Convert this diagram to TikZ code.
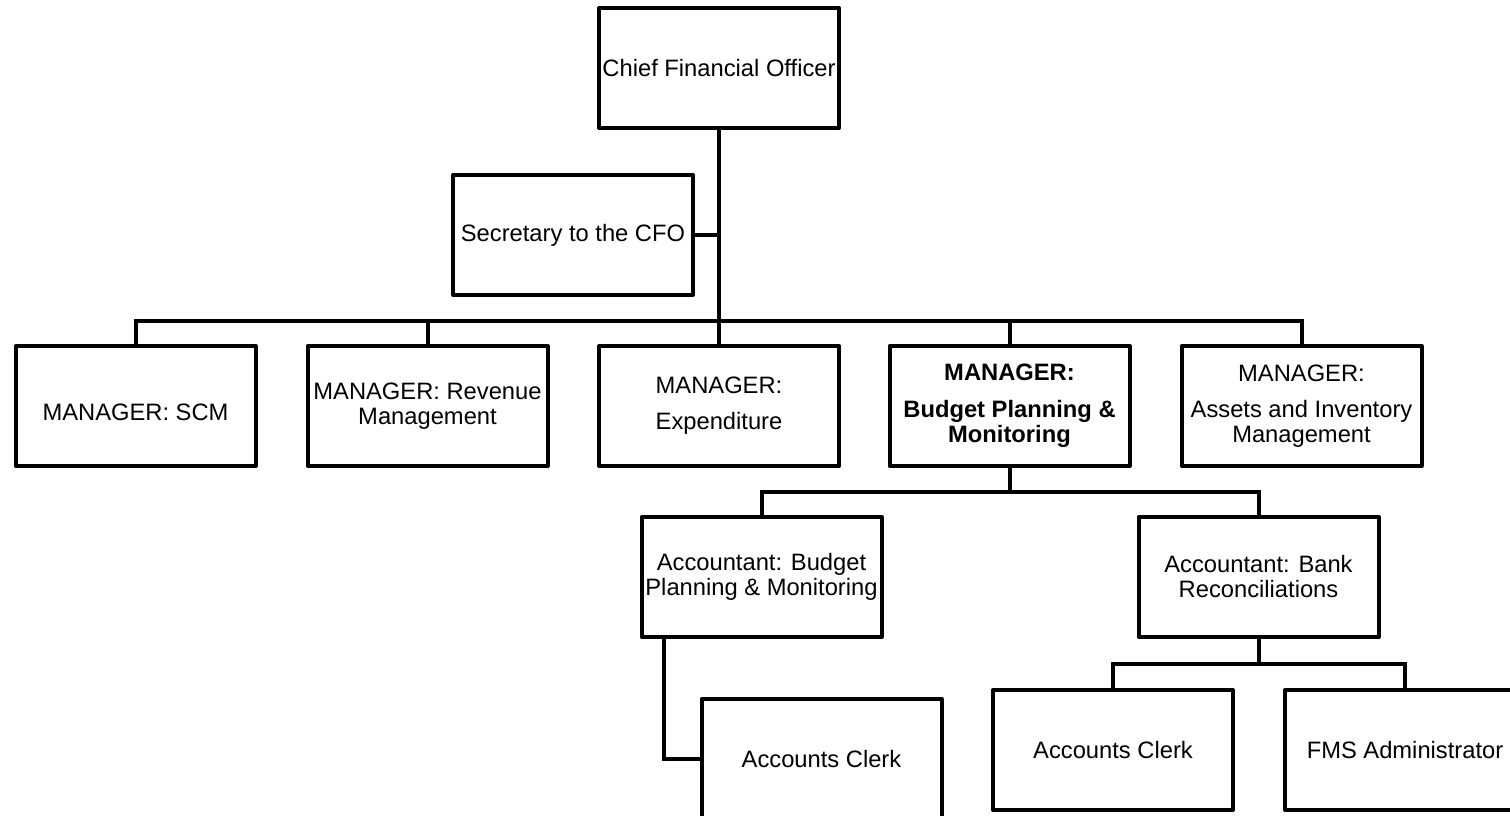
\documentclass[tikz,border=0pt]{standalone}
\usepackage{fontspec}
\setmainfont{Liberation Sans}
\begin{document}
\begin{tikzpicture}[x=0.75pt,y=-0.75pt,
  post/.style={draw,line width=3pt,line join=round,rectangle,inner sep=0pt,
    minimum width=180pt,minimum height=90pt,align=center,
    font=\fontsize{17.8pt}{18.75pt}\selectfont},
  link/.style={draw,line width=3pt,line join=miter}]
\useasboundingbox (0,0) rectangle (1510,816);
\fill[white] (0,0) rectangle (1510,816);
\clip (0,0) rectangle (1510,816);

% top of the chart
\node[post] (cfo) at (719,68) {Chief Financial Officer};
\node[post] (sec) at (573,235) {Secretary to the CFO};

% managers
\node[post] (scm) at (135.5,406) {\rule{0pt}{21.7pt}MANAGER: SCM};
\node[post] (rev) at (427.5,406) {MANAGER: Revenue\\Management};
\node[post] (exp) at (719,406) {MANAGER:\\[8pt]Expenditure};
\node[post,font=\fontsize{17.8pt}{18.75pt}\selectfont\bfseries] (bud) at (1009.5,406)
  {MANAGER:\\[9pt]Budget Planning \&\\Monitoring};
\node[post] (ast) at (1301.5,406) {MANAGER:\\[8pt]Assets and Inventory\\Management};

% accountants
\node[post] (abpm) at (761.5,577) {Accountant: Budget\\Planning \& Monitoring};
\node[post] (abank) at (1258.5,577) {Accountant: Bank\\Reconciliations};

% clerks and administrator
\node[post] (clerk1) at (821.5,759) {Accounts Clerk};
\node[post] (clerk2) at (1113,750) {Accounts Clerk};
\node[post] (fms) at (1405,750) {FMS Administrator};

% bus levels
\coordinate (bus) at (0,321);
\coordinate (bus2) at (0,492);
\coordinate (bus3) at (0,664);

% connectors
\draw[link] (cfo.south) -- (exp.north);
\draw[link] (sec.east) -- (sec.east -| cfo.south);
\draw[link] (scm.north) -- (scm.north |- bus) -- (ast.north |- bus) -- (ast.north);
\draw[link] (rev.north) -- (rev.north |- bus);
\draw[link] (bud.north) -- (bud.north |- bus);

\draw[link] (bud.south) -- (bud.south |- bus2);
\draw[link] (abpm.north) -- (abpm.north |- bus2) -- (abank.north |- bus2) -- (abank.north);

\draw[link] ([xshift=18pt]abpm.south west) |- (clerk1.west);

\draw[link] (abank.south) -- (abank.south |- bus3);
\draw[link] (clerk2.north) -- (clerk2.north |- bus3) -- (fms.north |- bus3) -- (fms.north);
\end{tikzpicture}
\end{document}
